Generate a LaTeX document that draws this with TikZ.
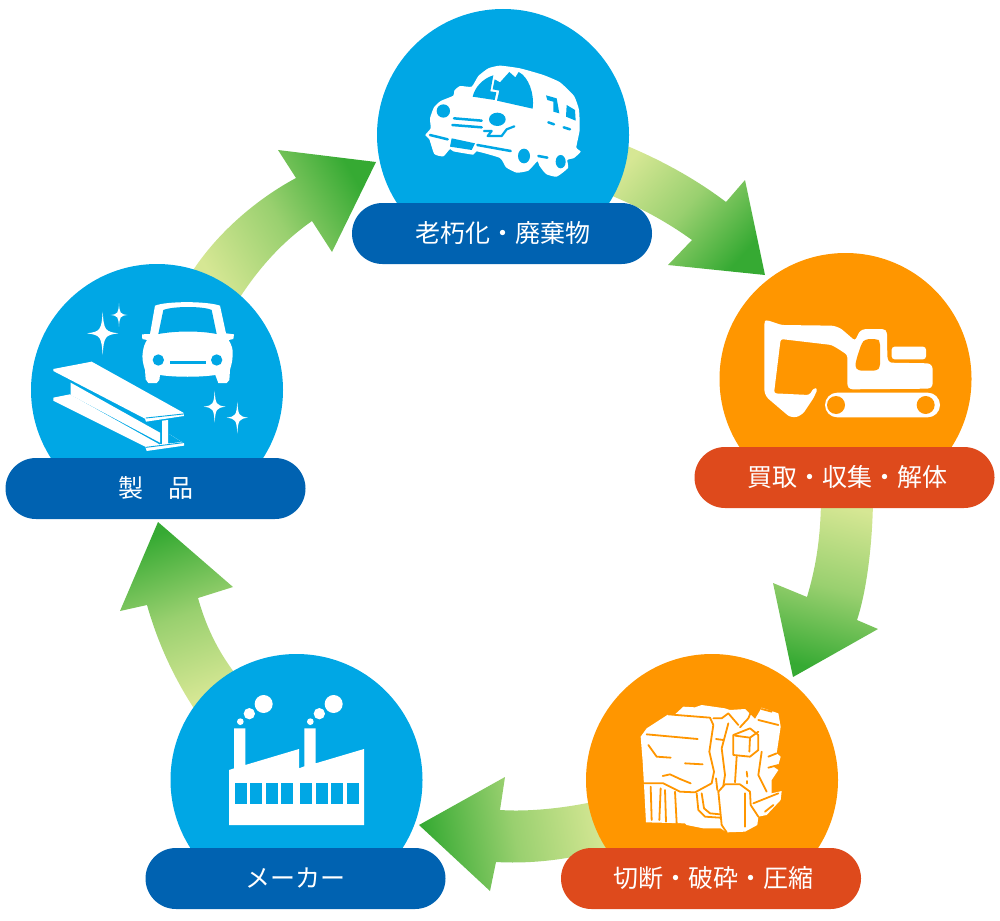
\documentclass[tikz,border=0pt]{standalone}
\usepackage{fontspec}
\usetikzlibrary{shapes.misc}
\newfontfamily\cjk{Noto Sans CJK JP}
\definecolor{cblue}{HTML}{00A7E5}
\definecolor{corange}{HTML}{FF9600}
\definecolor{pblue}{HTML}{0062B1}
\definecolor{pred}{HTML}{DE4A1C}
\definecolor{gl}{HTML}{D6E794}
\definecolor{gd}{HTML}{36AA33}
\tikzset{
  disc/.style={circle,minimum size=252pt,inner sep=0pt,draw=none},
  pill/.style={rounded rectangle,minimum width=300pt,minimum height=61pt,inner sep=0pt,draw=none,text=white,font=\cjk\fontsize{25}{28}\selectfont},
  flow/.style={draw=none,top color=gd,bottom color=gl,middle color=gl!62!gd,shading angle=#1},
  iconbox/.style={x=0.33333pt,y=-0.33333pt},
  wfill/.style={fill=white,draw=none},
  cutb/.style={draw=cblue,line width=#1,line cap=round,line join=round},
  cuto/.style={draw=corange,line width=1.8pt,line cap=round,line join=round}
}
\newcommand{\sparkle}[5]{\fill[#5] (#1,#2-#4) .. controls (#1+.08*#3,#2-.15*#4) and (#1+.15*#3,#2-.08*#4) .. (#1+#3,#2)
 .. controls (#1+.15*#3,#2+.08*#4) and (#1+.08*#3,#2+.15*#4) .. (#1,#2+#4)
 .. controls (#1-.08*#3,#2+.15*#4) and (#1-.15*#3,#2+.08*#4) .. (#1-#3,#2)
 .. controls (#1-.15*#3,#2-.08*#4) and (#1-.08*#3,#2-.15*#4) .. cycle;}
\begin{document}
\begin{tikzpicture}[x=1pt,y=-1pt]
\useasboundingbox (0,0) rectangle (1000,920);
% arrows
\coordinate (tip1) at (765,275);
\coordinate (tip2) at (793,677);
\coordinate (tip3) at (419,825);
\coordinate (tip4) at (158,522);
\coordinate (tip5) at (376,162);
\shade[flow=-132] (620,143) .. controls (662,160) and (697,180) .. (726,202) -- (745,180) -- (tip1) -- (668,265) -- (692,240) .. controls (667,222) and (640,207) .. (605,193) -- cycle;
\shade[flow=-195] (873,495) .. controls (873,540) and (867,590) .. (857,620) -- (878,629) -- (tip2) -- (773,583) -- (807,597) .. controls (815,570) and (821,540) .. (821,495) -- cycle;
\shade[flow=100] (610,798) .. controls (570,808) and (530,812) .. (500,810) -- (505,777) -- (tip3) -- (490,891) -- (496,862) .. controls (530,864) and (570,860) .. (610,848) -- cycle;
\shade[flow=20] (195,710) .. controls (172,675) and (157,640) .. (147,605) -- (120,611) -- (tip4) -- (233,587) -- (198,598) .. controls (207,630) and (220,655) .. (240,680) -- cycle;
\shade[flow=-60] (190,275) .. controls (215,235) and (255,200) .. (296,178) -- (278,150) -- (tip5) -- (332,252) -- (312,221) .. controls (285,240) and (260,265) .. (235,305) -- cycle;
% circles
\node[disc,fill=cblue] (c1) at (503,135) {};
\node[disc,fill=corange] (c2) at (845.500,379) {};
\node[disc,fill=corange] (c3) at (712,780) {};
\node[disc,fill=cblue] (c4) at (296.500,780) {};
\node[disc,fill=cblue] (c5) at (157,390) {};
% pills
\node[pill,fill=pblue] (p1) at (502,233.500) {\hspace*{2pt}老朽化・廃棄物};
\node[pill,fill=pred] (p2) at (844.500,477.500) {\hspace*{5pt}買取・収集・解体};
\node[pill,fill=pred] (p3) at (711,878.500) {\hspace*{5pt}切断・破砕・圧縮};
\node[pill,fill=pblue] (p4) at (295.500,878.500) {メーカー};
\node[pill,fill=pblue] (p5) at (155.500,488.500) {製　品};
% icon 1: damaged car
\begin{scope}[shift={(410,50)},iconbox]
\fill[wfill] plot[smooth cycle,tension=.3] coordinates {(46,255)(62,235)(60,205)(72,172)(92,153)(130,137)(133,122)(150,108)(185,110)(205,78)(235,55)(270,47)(330,55)(400,75)(450,97)(492,138)(507,180)(509,240)(499,292)(512,305)(492,324)(472,330)(474,354)(440,380)(408,372)(388,347)(382,334)(355,362)(320,368)(288,352)(270,324)(200,304)(190,314)(130,304)(120,297)(100,319)(73,312)(58,268)};
\fill[cblue] (188,140) .. controls (195,110) and (220,85) .. (250,76) -- (241,124) -- (259,127) -- (254,150) -- cycle;
\fill[cblue] (254,88) -- (270,97) -- (298,66) -- (316,82) -- (326,66) .. controls (355,80) and (374,130) .. (368,176) -- (261,152) -- (268,122) -- (248,118) -- cycle;
\fill[cblue] (408,136) -- (440,145) -- (448,190) -- (430,185) -- (430,155) -- (412,150) -- cycle;
\fill[cblue] (470,165) -- (495,180) -- (497,212) -- (468,200) -- cycle;
\fill[cblue] (100,183) ellipse[x radius=20,y radius=20];
\fill[cblue] (262,208) ellipse[x radius=25,y radius=20];
\draw[cutb=2.5pt] (132,205) -- (215,212);
\draw[cutb=2.5pt] (127,225) -- (215,232);
\draw[cutb=2.2pt] (222,243) -- (245,243) -- (233,258) -- (275,258) -- (290,238) -- (313,229);
\draw[cutb=2.5pt] (60,255) -- (113,268);
\fill[cblue] (125,265) -- (195,280) -- (185,300) -- (120,290) -- cycle;
\draw[cutb=2.5pt] (202,285) -- (302,303);
\fill[cblue] (342,318) ellipse[x radius=18,y radius=22];
\fill[cblue] (452,335) ellipse[x radius=15,y radius=20];
\draw[cutb=2.5pt] (385,318) -- (412,323);
\draw[cutb=2.5pt] (415,217) -- (432,223);
\draw[cutb=2.5pt] (461,232) -- (480,238);
\end{scope}
% icon 5: car, beam, sparkles
\begin{scope}[shift={(40,290)},iconbox]
\fill[wfill] (345,47) .. controls (380,33) and (500,33) .. (540,47) -- (558,130) -- (582,133) -- (580,147) -- (566,150) .. controls (575,165) and (580,180) .. (578,195) .. controls (578,215) and (572,230) .. (570,240) -- (568,270) -- (560,279) -- (535,279) -- (526,255) .. controls (480,262) and (405,262) .. (360,255) -- (358,270) -- (350,279) -- (325,279) -- (317,268) -- (315,240) .. controls (308,220) and (306,200) .. (308,190) .. controls (310,170) and (315,160) .. (321,150) -- (307,147) -- (306,133) -- (330,132) -- cycle;
\fill[cblue] (370,60) .. controls (400,48) and (490,48) .. (515,60) -- (530,132) .. controls (480,122) and (410,122) .. (355,132) -- cycle;
\fill[cblue] (355,210) circle[radius=17];
\fill[cblue] (530,210) circle[radius=17];
\fill[cblue] (390,214) rectangle (497,222);
\fill[wfill] (40,237) -- (155,215) -- (430,368) -- (432,378) -- (318,395) -- (315,386) -- (40,243) -- cycle;
\draw[cutb=.9pt] (318,384) -- (430,372);
\fill[wfill] (92,278) -- (360,428) -- (360,458) -- (92,315) -- cycle;
\fill[wfill] (40,323) -- (90,313) -- (358,463) -- (387,460) -- (387,432) -- (432,460) -- (432,467) -- (320,483) -- (316,470) -- (40,332) -- cycle;
\fill[cblue] (387,432) -- (425,456) -- (387,460) -- cycle;
\fill[wfill] (366,392) -- (384,390) -- (384,464) -- (366,466) -- cycle;
\draw[cutb=.9pt] (318,472) -- (430,458);
\sparkle{188}{130}{47}{65}{white}
\sparkle{237}{75}{25}{35}{white}
\sparkle{524}{350}{33}{48}{white}
\sparkle{592}{383}{32}{48}{white}
\end{scope}
% icon 2: excavator
\begin{scope}[shift={(750,310)},iconbox]
\fill[wfill,rounded corners=2.5pt] (43,35) -- (50,30) -- (95,45) -- (250,47) -- (272,55) -- (315,92) -- (330,62) -- (345,57) -- (402,57) -- (411,66) -- (412,145) -- (418,158) -- (538,160) -- (548,170) -- (548,228) -- (538,236) -- (300,238) -- (292,228) -- (292,135) -- (270,120) -- (245,105) -- (92,87) -- (72,250) -- (178,255) -- (192,233) -- (203,237) -- (190,265) -- (160,310) -- (140,322) -- (118,320) -- (50,262) -- (43,245) -- cycle;
\fill[corange,rounded corners=3pt] (345,88) -- (382,87) -- (390,95) -- (390,172) -- (380,182) -- (325,182) -- (315,170) -- (320,145) -- (335,100) -- cycle;
\fill[wfill,rounded corners=3pt] (425,110) rectangle (528,148);
\fill[wfill,rounded corners=12.300pt] (225,248) rectangle (570,322);
\fill[corange] (258,285) circle[radius=27];
\fill[corange] (527,285) circle[radius=27];
\end{scope}
% icon 3: scrap bale
\begin{scope}[shift={(630,695)},iconbox]
\fill[wfill] (135,58) -- (160,35) -- (195,37) -- (215,30) -- (285,40) -- (300,45) -- (345,42) -- (375,72) -- (395,38) -- (445,55) -- (452,95) -- (440,175) -- (452,185) -- (445,210) -- (430,215) -- (445,225) -- (425,255) -- (425,295) -- (455,288) -- (452,315) -- (410,360) -- (385,365) -- (382,390) -- (345,410) -- (290,412) -- (272,400) -- (220,400) -- (170,390) -- (165,385) -- (48,382) -- (42,270) -- (38,200) -- (32,125) -- (50,100) -- (115,58) -- cycle;
\draw[cuto] (115,58) -- (240,68) -- (250,90) -- (238,170) -- (252,230) -- (245,265) -- (195,292) -- (150,290) -- (100,265) -- (40,265);
\draw[cuto] (50,118) -- (203,132);
\draw[cuto] (55,150) -- (80,185) -- (122,188);
\draw[cuto] (165,205) -- (218,208);
\draw[cuto] (98,243) -- (120,238) -- (150,252) -- (182,265);
\draw[cuto] (62,275) -- (65,375);
\draw[cuto] (92,280) -- (88,375);
\draw[cuto] (105,285) -- (108,380);
\draw[cuto] (135,290) -- (140,385);
\draw[cuto] (200,295) -- (205,345) -- (225,365) -- (270,368);
\draw[cuto] (215,295) -- (222,340) -- (240,355) -- (270,358);
\draw[cuto] (265,290) -- (285,268) -- (330,268) -- (360,290) -- (362,330) -- (385,365);
\draw[cuto] (265,290) -- (275,390) -- (290,412);
\draw[cuto] (345,295) -- (345,395);
\draw[cuto] (258,250) -- (262,285);
\draw[cuto] (250,70) -- (275,70) -- (295,55) -- (325,90);
\draw[cuto] (295,85) -- (275,160) -- (285,240) -- (280,272);
\draw[cuto] (258,132) -- (280,135);
\draw[cuto] (310,120) -- (360,100) -- (385,120) -- (385,165) -- (360,185) -- (310,180) -- cycle;
\draw[cuto] (315,122) -- (360,128) -- (385,110);
\draw[cuto] (360,128) -- (358,170);
\draw[cuto] (320,185) -- (315,262);
\draw[cuto] (395,170) -- (385,240) -- (410,290);
\draw[cuto] (350,230) -- (352,245);
\draw[cuto] (350,258) -- (350,265);
\draw[cuto] (365,45) -- (355,70) -- (330,97);
\draw[cuto] (385,75) -- (445,90);
\draw[cuto] (395,42) -- (425,50);
\draw[cuto] (370,325) -- (445,295);
\draw[cuto] (405,350) -- (430,330);
\draw[cuto] (415,185) -- (440,175);
\draw[cuto] (415,218) -- (445,210);
\end{scope}
% icon 4: factory
\begin{scope}[shift={(220,685)},iconbox]
\fill[wfill] (27,255) -- (42,250) -- (42,130) -- (76,130) -- (76,240) -- (237,192) -- (237,250) -- (253,244) -- (253,130) -- (287,130) -- (287,235) -- (432,192) -- (432,420) -- (27,420) -- cycle;
\foreach \wx in {44,90,137,183,240,287,333,380} {\fill[cblue] (\wx,295) rectangle (\wx+36,358);}
\fill[wfill] (131,57) circle[radius=27];
\fill[wfill] (88,86) circle[radius=17];
\fill[wfill] (61,110) circle[radius=10];
\fill[wfill] (341,57) circle[radius=27];
\fill[wfill] (298,86) circle[radius=17];
\fill[wfill] (271,110) circle[radius=10];
\end{scope}
\end{tikzpicture}
\end{document}
